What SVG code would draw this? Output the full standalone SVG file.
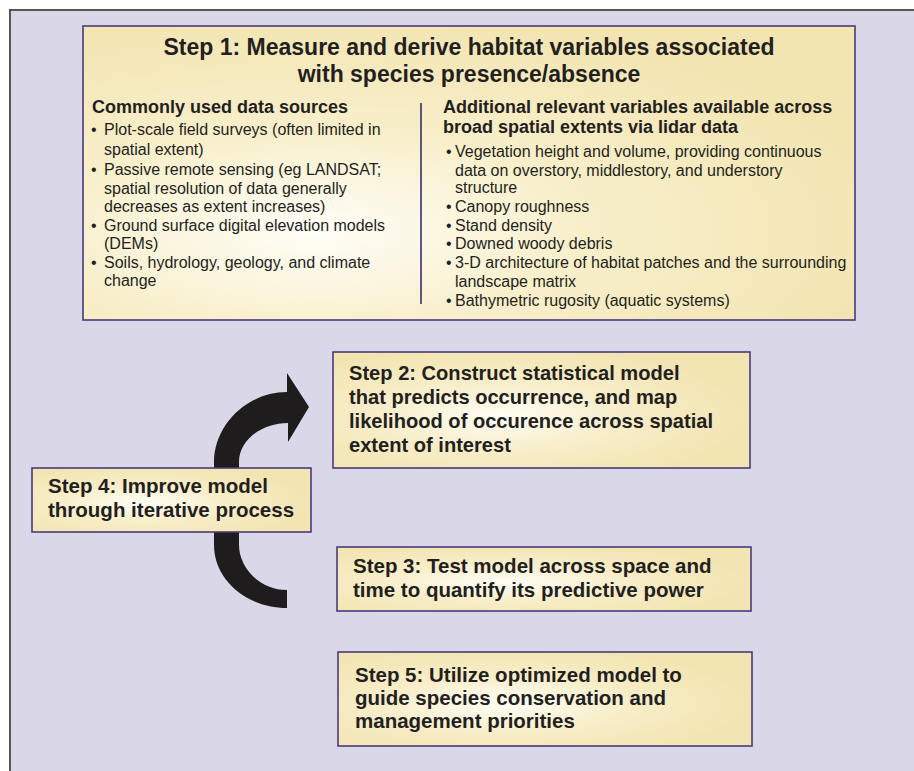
<svg xmlns="http://www.w3.org/2000/svg" width="914" height="771" viewBox="0 0 914 771">
<defs>
<radialGradient id="g1" cx="0.3" cy="0.7" r="0.75">
<stop offset="0" stop-color="#FFFEF8"/>
<stop offset="0.45" stop-color="#F8EFCB"/>
<stop offset="1" stop-color="#F3E5B2"/>
</radialGradient>
<radialGradient id="gb" cx="0.4" cy="0.55" r="0.6">
<stop offset="0" stop-color="#FFFEF6"/>
<stop offset="0.5" stop-color="#F7EDC8"/>
<stop offset="1" stop-color="#F3E5B2"/>
</radialGradient>
<style>
.box{fill:url(#gb);stroke:#4A3A7A;stroke-width:1.6}
.t{font-family:"Liberation Sans",Arial,Helvetica,sans-serif;fill:#231F20}
.title{font-size:23px;font-weight:bold;text-anchor:middle}
.h{font-size:18px;font-weight:bold}
.b{font-size:16px}
.s{font-size:20.5px;font-weight:bold}
.s2{font-size:20.1px;font-weight:bold}
</style>
</defs>
<rect x="0" y="0" width="914" height="771" fill="#FFFFFF"/>
<rect x="10" y="10" width="904" height="761" fill="#DAD8E8"/>
<path d="M10,771 V10 H914" fill="none" stroke="#555555" stroke-width="2"/>

<g id="step1">
<rect x="83" y="26" width="772" height="294" fill="url(#g1)" stroke="#4A3A7A" stroke-width="1.6"/>
<text class="t title" x="469" y="55">Step 1: Measure and derive habitat variables associated</text>
<text class="t title" x="469" y="82">with species presence/absence</text>
<line x1="421" y1="103" x2="421" y2="304" stroke="#2B2560" stroke-width="1.5"/>
<text class="t h" x="92" y="113">Commonly used data sources</text>
<g class="t b">
<text x="91" y="135">•</text><text x="104" y="135">Plot-scale field surveys (often limited in</text>
<text x="104" y="155">spatial extent)</text>
<text x="91" y="175">•</text><text x="104" y="175">Passive remote sensing (eg LANDSAT;</text>
<text x="104" y="194">spatial resolution of data generally</text>
<text x="104" y="212">decreases as extent increases)</text>
<text x="91" y="231">•</text><text x="104" y="231">Ground surface digital elevation models</text>
<text x="104" y="249">(DEMs)</text>
<text x="91" y="268">•</text><text x="104" y="268">Soils, hydrology, geology, and climate</text>
<text x="104" y="286">change</text>
</g>
<text class="t h" x="443" y="113">Additional relevant variables available across</text>
<text class="t h" x="443" y="133">broad spatial extents via lidar data</text>
<g class="t b">
<text x="446" y="157">•</text><text x="455" y="157">Vegetation height and volume, providing continuous</text>
<text x="455" y="176">data on overstory, middlestory, and understory</text>
<text x="455" y="193">structure</text>
<text x="446" y="212">•</text><text x="455" y="212">Canopy roughness</text>
<text x="446" y="231">•</text><text x="455" y="231">Stand density</text>
<text x="446" y="249">•</text><text x="455" y="249">Downed woody debris</text>
<text x="446" y="268">•</text><text x="455" y="268">3-D architecture of habitat patches and the surrounding</text>
<text x="455" y="287">landscape matrix</text>
<text x="446" y="306">•</text><text x="455" y="306">Bathymetric rugosity (aquatic systems)</text>
</g>
</g>

<g id="connectors">
<path d="M287,392 C247,392 214,425 214,462 L214,545 C214,580 247,608 287,608 L287,590 C260,590 239,568 239,545 L239,462 C239,440 262,423 288,423 L288,442 L309,407 L287,373 Z" fill="#1E1C1D"/>
</g>

<g id="step2">
<rect class="box" x="333" y="352" width="417" height="116"/>
<text class="t s2" x="349" y="380">Step 2: Construct statistical model</text>
<text class="t s2" x="349" y="404">that predicts occurrence, and map</text>
<text class="t s2" x="349" y="428">likelihood of occurence across spatial</text>
<text class="t s2" x="349" y="452">extent of interest</text>
</g>

<g id="step4">
<rect class="box" x="32" y="468" width="279" height="64"/>
<text class="t s" x="48" y="493">Step 4: Improve model</text>
<text class="t s" x="48" y="517">through iterative process</text>
</g>

<g id="step3">
<rect class="box" x="337" y="547" width="414" height="64"/>
<text class="t s" x="353" y="573">Step 3: Test model across space and</text>
<text class="t s" x="353" y="597">time to quantify its predictive power</text>
</g>

<g id="step5">
<rect class="box" x="338" y="652" width="414" height="94"/>
<text class="t s" x="355" y="682">Step 5: Utilize optimized model to</text>
<text class="t s" x="355" y="705">guide species conservation and</text>
<text class="t s" x="355" y="728">management priorities</text>
</g>
</svg>
